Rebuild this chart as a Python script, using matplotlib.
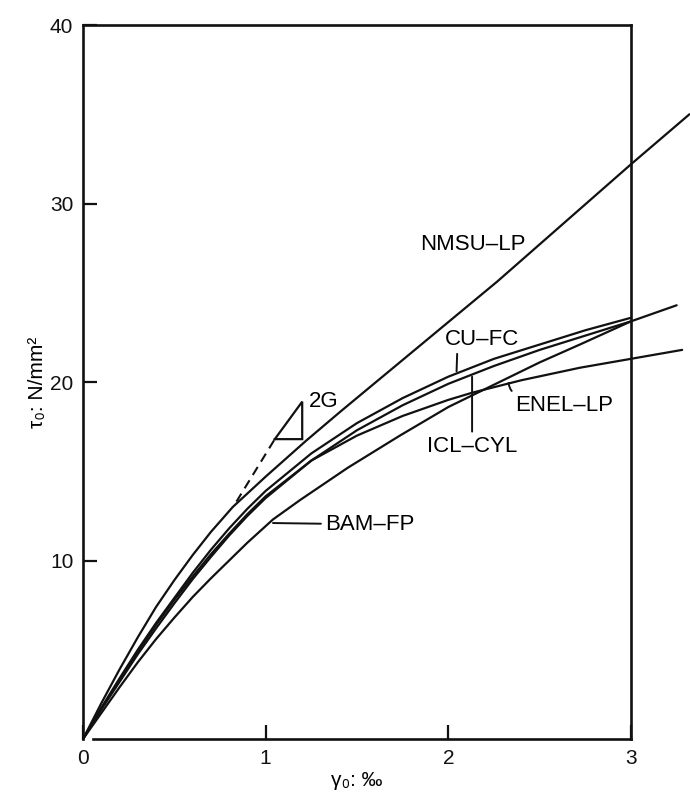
import numpy as np
from matplotlib import pyplot as plt

plt.rcParams['font.family'] = ['Liberation Sans', 'DejaVu Sans']

# curves: gamma_0 (per mille) -> tau_0 (N/mm^2)
nmsu_x = [0, 0.1, 0.2, 0.3, 0.4, 0.5, 0.6, 0.7, 0.82, 1.0, 1.22, 1.41, 1.94, 2.27, 3.0, 3.32]
nmsu_y = [0, 2.0, 3.9, 5.7, 7.4, 8.9, 10.3, 11.6, 13.0, 14.7, 16.7, 18.35, 22.85, 25.65, 32.2, 35.0]

cufc_x = [0, 0.1, 0.2, 0.3, 0.4, 0.5, 0.6, 0.7, 0.8, 0.9, 1.0, 1.25, 1.5, 1.75, 2.0, 2.25, 2.5, 2.75, 3.0]
cufc_y = [0, 1.75, 3.4, 5.0, 6.5, 7.9, 9.3, 10.6, 11.8, 12.9, 13.9, 16.0, 17.7, 19.1, 20.3, 21.3, 22.1, 22.9, 23.6]

icl_x = [0, 0.1, 0.2, 0.3, 0.4, 0.5, 0.6, 0.7, 0.8, 0.9, 1.0, 1.25, 1.5, 1.75, 2.0, 2.25, 2.5, 2.75, 3.0]
icl_y = [0, 1.65, 3.2, 4.75, 6.2, 7.6, 8.95, 10.2, 11.4, 12.5, 13.5, 15.6, 17.3, 18.7, 19.9, 20.9, 21.8, 22.6, 23.4]

enel_x = [0, 0.1, 0.2, 0.3, 0.4, 0.5, 0.6, 0.7, 0.8, 0.9, 1.0, 1.25, 1.5, 1.75, 2.0, 2.13, 2.4, 2.72, 3.0, 3.28]
enel_y = [0, 1.7, 3.3, 4.9, 6.4, 7.8, 9.1, 10.35, 11.5, 12.6, 13.6, 15.6, 17.0, 18.1, 19.0, 19.4, 20.1, 20.8, 21.3, 21.8]

bam_x = [0, 0.1, 0.2, 0.3, 0.4, 0.5, 0.6, 0.7, 0.8, 0.9, 1.04, 1.19, 1.45, 1.735, 2.0, 2.28, 2.5, 2.72, 3.0, 3.25]
bam_y = [0, 1.45, 2.9, 4.3, 5.6, 6.8, 7.95, 9.0, 10.0, 11.0, 12.3, 13.4, 15.2, 17.0, 18.6, 20.0, 21.1, 22.1, 23.4, 24.3]

# initial stiffness 2G: dashed line and slope triangle
g2_x = [0.84, 1.05]
g2_y = [13.3, 16.8]
tri_x = [1.05, 1.2, 1.2, 1.05]
tri_y = [16.8, 16.8, 18.9, 16.8]

xticks = [0, 1, 2, 3]
yticks = [10, 20, 30, 40]

fig = plt.figure(figsize=(6.9, 7.92), dpi=100)
ax = fig.add_axes([0.1203, 0.0669, 0.7942, 0.9015])

ink = '#111111'
for xs, ys in [(nmsu_x, nmsu_y), (cufc_x, cufc_y), (icl_x, icl_y),
               (enel_x, enel_y), (bam_x, bam_y)]:
    ax.plot(xs, ys, color=ink, lw=1.6, clip_on=False,
            solid_capstyle='round', solid_joinstyle='round')

ax.plot(g2_x, g2_y, color=ink, lw=1.5, dashes=(4.5, 3))
ax.plot(tri_x, tri_y, color=ink, lw=1.6, solid_joinstyle='miter')

fs = 16
ax.text(1.237, 18.9, '2G', fontsize=fs, va='center', ha='left')
ax.text(1.845, 27.7, 'NMSU\u2013LP', fontsize=fs, va='center', ha='left')

line = dict(arrowstyle='-', color=ink, lw=1.4, shrinkA=1, shrinkB=0)
ax.annotate('CU\u2013FC', xy=(2.045, 20.6), xytext=(1.98, 22.4), fontsize=fs,
            ha='left', va='center',
            arrowprops=dict(line, relpos=(0.17, 0)))
ax.annotate('ENEL\u2013LP', xy=(2.33, 19.95), xytext=(2.365, 18.7), fontsize=fs,
            ha='left', va='center',
            arrowprops=dict(line, relpos=(0.02, 1), connectionstyle='arc3,rad=-0.3'))
ax.annotate('ICL\u2013CYL', xy=(2.13, 20.3), xytext=(2.13, 16.4), fontsize=fs,
            ha='center', va='center',
            arrowprops=dict(line, relpos=(0.5, 1)))
ax.annotate('BAM\u2013FP', xy=(1.04, 12.1), xytext=(1.325, 12.0), fontsize=fs,
            ha='left', va='center',
            arrowprops=dict(line, relpos=(0, 0.55)))

ax.set_xlim(0, 3)
ax.set_ylim(0, 40)
ax.set_xticks(xticks)
ax.set_yticks(yticks)
ax.tick_params(direction='in', length=10, width=1.6, labelsize=15, pad=7, colors=ink)
for s in ax.spines.values():
    s.set_linewidth(1.9)
    s.set_color(ink)
ax.spines['bottom'].set_bounds(0.055, 3)

ax.set_xlabel('\u03b3\u2080: \u2030', fontsize=15, labelpad=2)
ax.set_ylabel('\u03c4\u2080: N/mm\u00b2', fontsize=15, labelpad=2)

plt.savefig('out.png', dpi=100)
